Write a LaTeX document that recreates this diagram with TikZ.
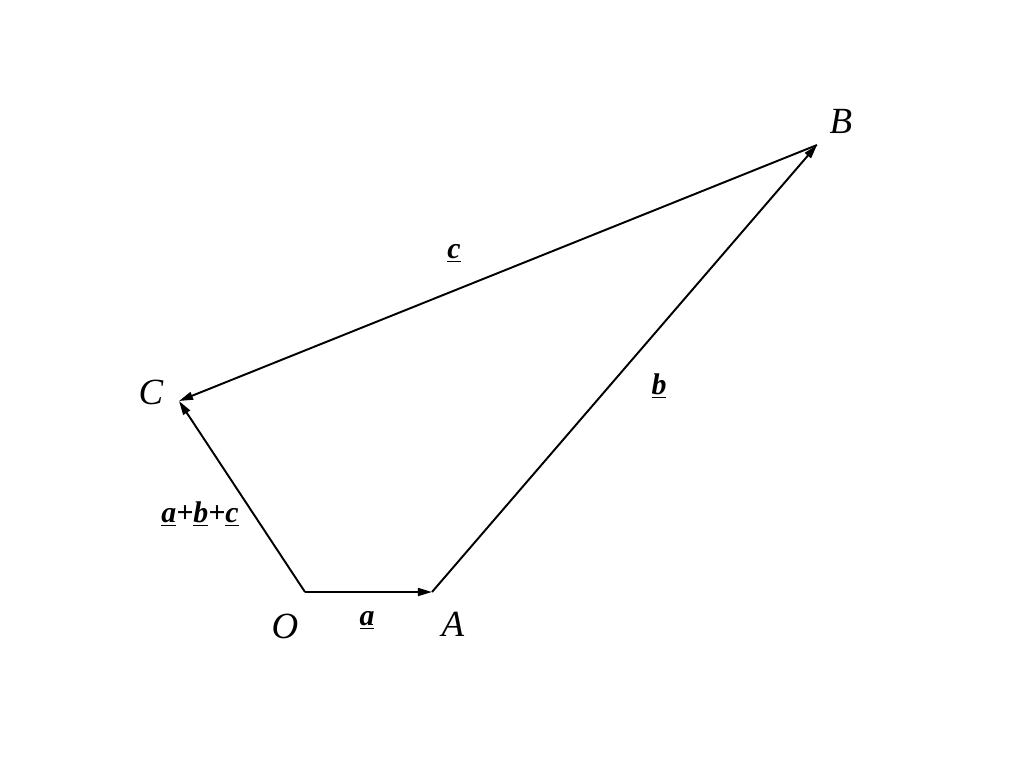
\documentclass[tikz,border=0pt]{standalone}
\usepackage{fontspec}
\setmainfont{Liberation Serif}
\usetikzlibrary{arrows.meta,positioning}

\begin{document}
\begin{tikzpicture}[x=0.02cm,y=-0.02cm,>={Triangle[length=8pt,width=4.5pt]},
  lbl/.style={font=\fontsize{21}{24}\selectfont\itshape},
  vec/.style={font=\fontsize{17}{20}\selectfont\bfseries\itshape}]
\useasboundingbox (0,0) rectangle (1024,768);
\coordinate (O) at (305,592);
\coordinate (A) at (432,592);
\coordinate (B) at (817,145);
\coordinate (C) at (179,401);
\node[lbl](l_O) at (285,626){O};
\node[lbl](l_A) at (453,624){A};
\node[lbl](l_B) at (841,121){B};
\node[lbl](l_C) at (151,392){C};
\node[vec](v_a) at (367,620){\underline{a}};
\node[vec](v_b) at (659,386){\underline{b}};
\node[vec](v_c) at (454,253){\underline{c}};
\node[vec](v_s) at (200,514){\underline{a}+\underline{b}+\underline{c}};
\path[->,line width=1.1pt,line join=round]
(O) edge node {} (A)
    edge node {} (C)
(A) edge node {} (B)
(B) edge node {} (C);
\end{tikzpicture}
\end{document}
